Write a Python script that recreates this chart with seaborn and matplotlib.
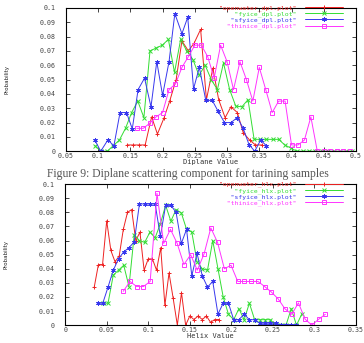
import matplotlib
matplotlib.use('Agg')
import matplotlib.pyplot as plt
import seaborn as sns

# 데이터: Diplane (위 패널)
dpl_labels = ['"openwater_dpl.plot"', '"fyice_dpl.plot"', '"sfyice_dpl.plot"', '"thinice_dpl.plot"']

dpl_openwater_x = [0.145, 0.154, 0.164, 0.173, 0.183, 0.192, 0.202, 0.211, 0.221, 0.230, 0.240, 0.249,
                   0.259, 0.268, 0.278, 0.287, 0.297, 0.306, 0.316, 0.325, 0.335, 0.344, 0.354]
dpl_openwater_y = [0.0044, 0.0044, 0.0044, 0.0044, 0.024, 0.012, 0.023, 0.035, 0.05, 0.077, 0.070, 0.0755,
                   0.085, 0.036, 0.058, 0.036, 0.0234, 0.031, 0.027, 0.013, 0.0078, 0.0044, 0.0044]

dpl_fyice_x = [0.095, 0.1045, 0.114, 0.1235, 0.133, 0.1425, 0.152, 0.1615, 0.171, 0.1805, 0.19, 0.1995,
               0.209, 0.2185, 0.228, 0.2375, 0.247, 0.2565, 0.266, 0.2755, 0.285, 0.2945, 0.304, 0.3135,
               0.323, 0.3325, 0.342, 0.3515, 0.361, 0.3705, 0.38, 0.3895, 0.399, 0.4085, 0.418, 0.4275,
               0.437, 0.4465, 0.456, 0.4655, 0.475, 0.4845, 0.494]
dpl_fyice_y = [0.0039, 0.0, 0.0, 0.0039, 0.0078, 0.016, 0.027, 0.035, 0.0235, 0.070, 0.072, 0.074,
               0.078, 0.055, 0.078, 0.070, 0.064, 0.053, 0.060, 0.050, 0.043, 0.0616, 0.043, 0.0315,
               0.031, 0.036, 0.0083, 0.0083, 0.0083, 0.0083, 0.0083, 0.0044, 0.0022, 0.0, 0.0, 0.0,
               0.0, 0.0, 0.0, 0.0, 0.0, 0.0, 0.0]

dpl_sfyice_x = [0.095, 0.104, 0.115, 0.1245, 0.134, 0.144, 0.153, 0.162, 0.172, 0.182, 0.191, 0.200,
                0.210, 0.219, 0.230, 0.239, 0.248, 0.257, 0.267, 0.277, 0.286, 0.296, 0.306, 0.316,
                0.325, 0.334, 0.343, 0.352, 0.361]
dpl_sfyice_y = [0.0078, 0.0, 0.0078, 0.0039, 0.027, 0.027, 0.0156, 0.043, 0.051, 0.031, 0.0625, 0.039,
                0.0625, 0.096, 0.082, 0.0935, 0.0435, 0.0585, 0.0355, 0.0355, 0.028, 0.020, 0.020, 0.0235,
                0.016, 0.0047, 0.0, 0.0078, 0.0039]

dpl_thinice_x = [0.16, 0.17, 0.18, 0.19, 0.20, 0.21, 0.22, 0.23, 0.24, 0.25, 0.26, 0.27, 0.28, 0.29,
                 0.30, 0.31, 0.32, 0.33, 0.34, 0.35, 0.36, 0.37, 0.38, 0.39, 0.40, 0.41, 0.42, 0.43,
                 0.44, 0.45, 0.46, 0.47, 0.48, 0.49]
dpl_thinice_y = [0.016, 0.016, 0.0195, 0.024, 0.027, 0.043, 0.047, 0.0585, 0.066, 0.074, 0.074, 0.066,
                 0.051, 0.074, 0.0625, 0.043, 0.0625, 0.05, 0.035, 0.0585, 0.043, 0.027, 0.035, 0.035,
                 0.0044, 0.0044, 0.0078, 0.024, 0.0, 0.0, 0.0, 0.0, 0.0, 0.0]

dpl_xticks = [0.05, 0.1, 0.15, 0.2, 0.25, 0.3, 0.35, 0.4, 0.45, 0.5]
dpl_xtick_labels = ['0.05', '0.1', '0.15', '0.2', '0.25', '0.3', '0.35', '0.4', '0.45', '0.5']

# 데이터: Helix (아래 패널)
hlx_labels = ['"openwater_hlx.plot"', '"fyice_hlx.plot"', '"sfyice_hlx.plot"', '"thinice_hlx.plot"']

hlx_openwater_x = [0.035, 0.04, 0.045, 0.05, 0.055, 0.06, 0.065, 0.07, 0.075, 0.08, 0.085, 0.09,
                   0.095, 0.1, 0.105, 0.11, 0.115, 0.12, 0.125, 0.13, 0.135, 0.14, 0.145, 0.15,
                   0.155, 0.16, 0.165, 0.17, 0.175, 0.18, 0.185]
hlx_openwater_y = [0.027, 0.043, 0.043, 0.074, 0.053, 0.045, 0.049, 0.068, 0.080, 0.082, 0.060, 0.066,
                   0.039, 0.047, 0.047, 0.039, 0.055, 0.014, 0.037, 0.019, 0.0, 0.023, 0.0, 0.0065,
                   0.004, 0.0065, 0.004, 0.0065, 0.002, 0.004, 0.004]

hlx_fyice_x = [0.0453, 0.0516, 0.0579, 0.0642, 0.0705, 0.0768, 0.0831, 0.0894, 0.0957, 0.102, 0.1083,
               0.1146, 0.1209, 0.1272, 0.1335, 0.1398, 0.1461, 0.1524, 0.1587, 0.165, 0.1713, 0.1776,
               0.1839, 0.1902, 0.1965, 0.2028, 0.2091, 0.2154, 0.2217, 0.228, 0.2343, 0.2406, 0.2469,
               0.2532, 0.2595, 0.2658, 0.2721, 0.2784, 0.2847]
hlx_fyice_y = [0.0156, 0.0156, 0.0355, 0.039, 0.0425, 0.0274, 0.064, 0.060, 0.0587, 0.066, 0.062,
               0.072, 0.085, 0.0738, 0.082, 0.0796, 0.068, 0.066, 0.045, 0.040, 0.039, 0.060,
               0.040, 0.020, 0.0078, 0.0039, 0.0117, 0.0039, 0.0156, 0.0039, 0.0039, 0.0039, 0.0039,
               0.0, 0.0, 0.0, 0.0117, 0.0, 0.0078]

hlx_sfyice_x = [0.039, 0.0453, 0.0516, 0.0579, 0.0642, 0.0705, 0.0768, 0.0831, 0.0894, 0.0957, 0.102,
                0.1083, 0.1146, 0.1209, 0.1272, 0.1335, 0.1398, 0.1461, 0.1524, 0.1587, 0.165, 0.1713,
                0.1776, 0.1839, 0.1902, 0.1965, 0.2028, 0.2091, 0.2154, 0.2217, 0.228, 0.2343, 0.2406,
                0.2469, 0.2532, 0.2595, 0.2658, 0.2721, 0.2784]
hlx_sfyice_y = [0.0156, 0.0156, 0.027, 0.039, 0.047, 0.052, 0.055, 0.059, 0.086, 0.086, 0.086,
                0.086, 0.063, 0.085, 0.085, 0.080, 0.058, 0.068, 0.035, 0.051, 0.035, 0.027,
                0.031, 0.0078, 0.0156, 0.0156, 0.0039, 0.0039, 0.0078, 0.0039, 0.0039, 0.0014, 0.0014,
                0.0014, 0.0014, 0.0, 0.0, 0.0, 0.0]

hlx_thinice_x = [0.0699, 0.078, 0.0861, 0.0942, 0.1023, 0.1105, 0.1186, 0.1267, 0.1348, 0.1429, 0.151,
                 0.159, 0.1672, 0.1753, 0.1834, 0.1916, 0.1996, 0.2077, 0.2158, 0.224, 0.2321, 0.2401,
                 0.2483, 0.2564, 0.2645, 0.2727, 0.2807, 0.2888, 0.2969, 0.3051, 0.3131]
hlx_thinice_y = [0.024, 0.031, 0.0274, 0.0274, 0.031, 0.0935, 0.058, 0.068, 0.058, 0.043, 0.05,
                 0.039, 0.0506, 0.069, 0.0587, 0.040, 0.0425, 0.031, 0.031, 0.031, 0.031, 0.0274,
                 0.0234, 0.0186, 0.0116, 0.0077, 0.0158, 0.0042, 0.0, 0.0042, 0.0077]

hlx_xticks = [0, 0.05, 0.1, 0.15, 0.2, 0.25, 0.3, 0.35]
hlx_xtick_labels = ['0', '0.05', '0.1', '0.15', '0.2', '0.25', '0.3', '0.35']

yticks = [0, 0.01, 0.02, 0.03, 0.04, 0.05, 0.06, 0.07, 0.08, 0.09, 0.1]
ytick_labels = ['0', '0.01', '0.02', '0.03', '0.04', '0.05', '0.06', '0.07', '0.08', '0.09', '0.1']

caption = 'Figure 9: Diplane scattering component for tarining samples'

# gnuplot 기본 색 / 포인트 모양
colors = ['#ee2222', '#33dd33', '#3838ee', '#ff33ff']
markers = ['+', 'x', (6, 2, 0), 's']

sns.set_style('ticks')
plt.rcParams['font.family'] = ['DejaVu Sans Mono']

fig = plt.figure(figsize=(3.64, 3.43), dpi=100)
ax_top = fig.add_axes([0.181, 0.559, 0.797, 0.418])
ax_bot = fig.add_axes([0.179, 0.052, 0.799, 0.411])


def draw_panel(ax, series, labels, xlim, xticks, xtick_labels, xlabel):
    width = max(len(s) for s in labels)
    for (x, y), lab, c, m in zip(series, labels, colors, markers):
        sns.lineplot(x=x, y=y, ax=ax, color=c, marker=m, sort=False, errorbar=None,
                     label=lab.rjust(width), linewidth=0.7, markersize=3.2, markeredgewidth=0.7,
                     markerfacecolor='none' if m == 's' else c, markeredgecolor=c)

    ax.set_xlim(*xlim)
    ax.set_ylim(0, 0.1)
    ax.set_xticks(xticks)
    ax.set_xticklabels(xtick_labels)
    ax.set_yticks(yticks)
    ax.set_yticklabels(ytick_labels)
    ax.tick_params(direction='in', length=3, width=0.6, top=True, right=True,
                   labelsize=4.8, labelcolor='#444444')
    ax.tick_params(axis='x', pad=1.2)
    ax.tick_params(axis='y', pad=7.5)
    for sp in ax.spines.values():
        sp.set_linewidth(0.8)
        sp.set_color('black')

    ax.set_xlabel(xlabel, fontsize=5, color='#333333', labelpad=0)
    ax.set_ylabel('Probability', fontsize=4, family='DejaVu Sans', color='#222222')
    ax.yaxis.set_label_coords(-0.195, 0.5)

    ax.legend(loc='upper right', bbox_to_anchor=(0.955, 1.02), frameon=False, markerfirst=False,
              labelcolor='linecolor', fontsize=4.6, handlelength=6.0, handletextpad=1.2,
              labelspacing=0.0, borderpad=0, borderaxespad=0, numpoints=1)


draw_panel(ax_top,
           [(dpl_openwater_x, dpl_openwater_y), (dpl_fyice_x, dpl_fyice_y),
            (dpl_sfyice_x, dpl_sfyice_y), (dpl_thinice_x, dpl_thinice_y)],
           dpl_labels, (0.05, 0.5), dpl_xticks, dpl_xtick_labels, 'Diplane Value')

draw_panel(ax_bot,
           [(hlx_openwater_x, hlx_openwater_y), (hlx_fyice_x, hlx_fyice_y),
            (hlx_sfyice_x, hlx_sfyice_y), (hlx_thinice_x, hlx_thinice_y)],
           hlx_labels, (0, 0.35), hlx_xticks, hlx_xtick_labels, 'Helix Value')

fig.text(0.515, 0.492, caption, ha='center', va='center', fontsize=8.4,
         family='Liberation Serif', color='#555555')

fig.savefig('out.png', dpi=100)
